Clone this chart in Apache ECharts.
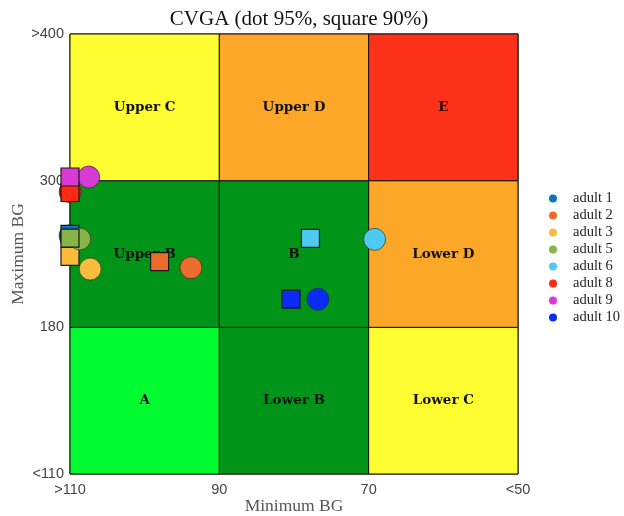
<!DOCTYPE html>
<html>
<head>
<meta charset="utf-8">
<style>
  html, body { margin: 0; padding: 0; background: #fff; }
  #chart { width: 624px; height: 516px; }
</style>
<script src="https://cdn.jsdelivr.net/npm/echarts@6/dist/echarts.min.js"></script>
</head>
<body>
<div id="chart"></div>
<script>
// Control Variability Grid Analysis: per subject, the 95% envelope (dot)
// and 90% envelope (square) of minimum / maximum blood glucose.
const subjects = ['adult 1', 'adult 2', 'adult 3', 'adult 5', 'adult 6', 'adult 8', 'adult 9', 'adult 10'];

const dotMinBG    = [110, 93.8, 107.3, 108.7, 69.2, 110, 107.5, 76.8];
const dotMaxBG    = [255, 228.8, 227.7, 252.3, 252, 291, 302.5, 203];
const squareMinBG = [110, 98.0, 110, 110, 77.8, 110, 110, 80.4];
const squareMaxBG = [256, 233.7, 238, 253, 252.8, 290.3, 302.5, 203];

// Tick labels of the two grid axes (one per zone boundary)
const minTickLabels = ['>110', '90', '70', '<50'];
const maxTickLabels = ['<110', '180', '300', '>400'];
const minBreaks = [110, 90, 70, 50];
const maxBreaks = [110, 180, 300, 400];

// Zone names, rows from bottom to top, columns left to right
const zoneNames = [
  ['A', 'Lower B', 'Lower C'],
  ['Upper B', 'B', 'Lower D'],
  ['Upper C', 'Upper D', 'E']
];

const zoneColors = [
  ['#00fb30', '#009418', '#fdfd32'],
  ['#009418', '#009418', '#fca727'],
  ['#fdfd32', '#fca727', '#fe3119']
];
const subjectColors = ['#0d73bd', '#ec6c2c', '#f9bc3c', '#87b446', '#4ccaef', '#ff2a10', '#d93ad4', '#0a2cf6'];

// Piecewise-linear map of a glucose value onto the grid (0..3)
function toGrid(v, breaks) {
  const asc = breaks[breaks.length - 1] > breaks[0];
  for (let i = 0; i < breaks.length - 1; i++) {
    const a = breaks[i], b = breaks[i + 1];
    const inside = asc ? (v <= b || i === breaks.length - 2) : (v >= b || i === breaks.length - 2);
    if (inside) {
      const t = (v - a) / (b - a);
      return Math.max(0, Math.min(3, i + t));
    }
  }
  return 3;
}

const serif = '"Liberation Serif", "DejaVu Serif", serif';
const wideSerif = '"DejaVu Serif", "Liberation Serif", serif';
const sans = '"Liberation Sans", Arial, sans-serif';

const zoneAreas = [];
for (let r = 0; r < 3; r++) {
  for (let c = 0; c < 3; c++) {
    zoneAreas.push([
      {
        name: zoneNames[r][c],
        xAxis: c, yAxis: r,
        itemStyle: { color: zoneColors[r][c], borderColor: '#111', borderWidth: 1, opacity: 1 }
      },
      { xAxis: c + 1, yAxis: r + 1 }
    ]);
  }
}

const series = [{
  name: 'zones',
  type: 'scatter',
  data: [],
  silent: true,
  markArea: {
    silent: true,
    label: {
      show: true, position: 'inside',
      fontFamily: wideSerif, fontWeight: 'bold', fontSize: 13.5, color: '#111'
    },
    data: zoneAreas
  }
}];

subjects.forEach((name, i) => {
  series.push({
    name: name,
    type: 'scatter',
    z: 3 + i,
    itemStyle: { color: subjectColors[i], opacity: 1 },
    data: [
      {
        value: [toGrid(dotMinBG[i], minBreaks), toGrid(dotMaxBG[i], maxBreaks)],
        symbol: 'circle', symbolSize: 22,
        itemStyle: { borderColor: 'rgba(40,40,40,0.8)', borderWidth: 0.8 }
      },
      {
        value: [toGrid(squareMinBG[i], minBreaks), toGrid(squareMaxBG[i], maxBreaks)],
        symbol: 'rect', symbolSize: 18,
        itemStyle: { borderColor: '#1a1a1a', borderWidth: 1.2 }
      }
    ]
  });
});

const chart = echarts.init(document.getElementById('chart'), null, { renderer: 'canvas' });
chart.setOption({
  animation: false,
  backgroundColor: '#ffffff',
  title: {
    text: 'CVGA (dot 95%, square 90%)',
    left: 294, top: 4, textAlign: 'center',
    textStyle: { fontFamily: serif, fontWeight: 'normal', fontSize: 21, color: '#111' }
  },
  grid: {
    left: 70, right: 106, top: 34, bottom: 42,
    outerBoundsMode: 'none', containLabel: false,
    show: true, borderColor: '#111', borderWidth: 1, backgroundColor: 'transparent'
  },
  legend: {
    orient: 'vertical',
    left: 544, top: 186,
    itemWidth: 8, itemHeight: 8, itemGap: 2,
    icon: 'circle',
    data: subjects,
    textStyle: { fontFamily: serif, fontSize: 14.5, color: '#222', padding: [0, 0, 0, 11] }
  },
  xAxis: {
    type: 'value', min: 0, max: 3, interval: 1,
    name: 'Minimum BG', nameLocation: 'middle', nameGap: 23, nameMoveOverlap: false,
    nameTextStyle: { fontFamily: serif, fontSize: 17.5, color: '#555' },
    axisLine: { show: false }, axisTick: { show: false }, splitLine: { show: false },
    axisLabel: { margin: 8, fontFamily: sans, fontSize: 14.5, color: '#444', formatter: v => minTickLabels[v] }
  },
  yAxis: {
    type: 'value', min: 0, max: 3, interval: 1,
    name: 'Maximum BG', nameLocation: 'middle', nameGap: 43, nameMoveOverlap: false,
    nameTextStyle: { fontFamily: serif, fontSize: 17.5, color: '#555' },
    axisLine: { show: false }, axisTick: { show: false }, splitLine: { show: false },
    axisLabel: { margin: 6, fontFamily: sans, fontSize: 14.5, color: '#444', formatter: v => maxTickLabels[v] }
  },
  series: series
});
</script>
</body>
</html>
